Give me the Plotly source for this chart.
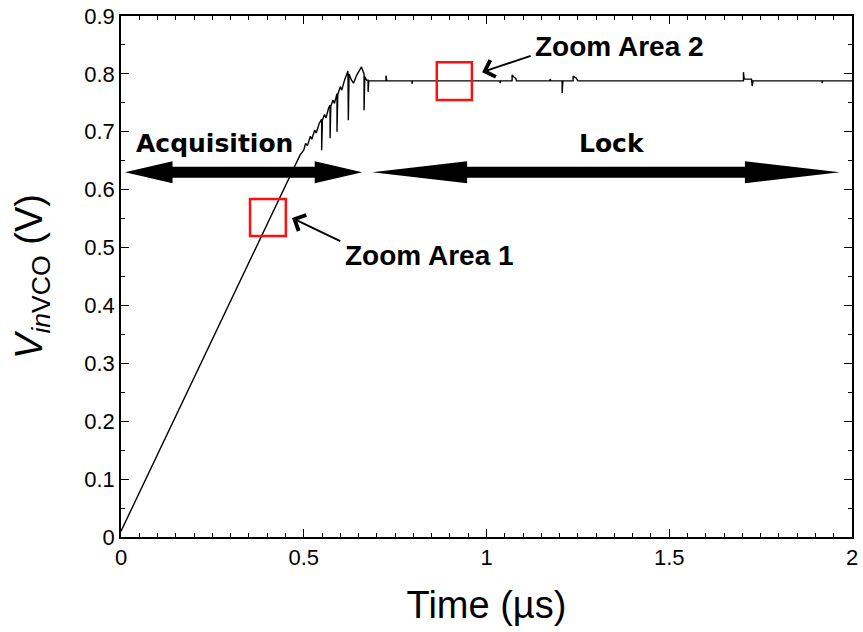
import plotly.graph_objects as go

# Control voltage of the VCO during PLL acquisition and lock
time_us = [
    0.000, 0.100, 0.200, 0.300, 0.400, 0.440, 0.470, 0.490, 0.500, 0.505,
    0.510, 0.518, 0.522, 0.530, 0.534, 0.542, 0.549, 0.549, 0.551, 0.557,
    0.561, 0.568, 0.572, 0.572, 0.574, 0.580, 0.584, 0.591, 0.591, 0.593,
    0.600, 0.604, 0.612, 0.621, 0.622, 0.624, 0.630, 0.636, 0.645, 0.652,
    0.658, 0.665, 0.665, 0.667, 0.672, 0.676, 0.676, 0.678,
    0.725, 0.725, 0.727, 0.796, 0.796, 0.798,
    1.037, 1.037, 1.039, 1.070, 1.070, 1.074, 1.080, 1.082,
    1.174, 1.174, 1.176, 1.207, 1.207, 1.209,
    1.237, 1.237, 1.245, 1.250,
    1.703, 1.703, 1.705, 1.725, 1.727, 1.729,
    1.918, 1.918, 1.920, 2.000,
]
v_in_vco = [
    0.010, 0.143, 0.276, 0.409, 0.541, 0.594, 0.634, 0.660, 0.668, 0.680,
    0.676, 0.692, 0.687, 0.703, 0.698, 0.714, 0.722, 0.668, 0.720, 0.730,
    0.724, 0.741, 0.746, 0.689, 0.744, 0.755, 0.749, 0.766, 0.700, 0.764,
    0.778, 0.772, 0.790, 0.805, 0.720, 0.800, 0.790, 0.784, 0.798, 0.806,
    0.812, 0.800, 0.737, 0.795, 0.789, 0.789, 0.769, 0.788,
    0.788, 0.797, 0.788, 0.788, 0.783, 0.788,
    0.788, 0.784, 0.788, 0.788, 0.798, 0.795, 0.792, 0.788,
    0.788, 0.791, 0.788, 0.788, 0.767, 0.788,
    0.788, 0.796, 0.793, 0.788,
    0.788, 0.803, 0.791, 0.791, 0.779, 0.788,
    0.788, 0.784, 0.788, 0.788,
]

x_ticks = [0, 0.5, 1, 1.5, 2]
x_tick_text = ["0", "0.5", "1", "1.5", "2"]

# Operating phases shown as double-headed arrows
phase_names = ["Acquisition", "Lock"]
phase_start = [0.011, 0.687]
phase_end = [0.660, 1.967]
phase_label_x = [0.255, 1.343]
phase_level = 0.630

# Regions examined in detail
zoom_names = ["Zoom Area 1", "Zoom Area 2"]
zoom_x0 = [0.353, 0.864]
zoom_x1 = [0.451, 0.960]
zoom_y0 = [0.520, 0.755]
zoom_y1 = [0.584, 0.820]
zoom_label_x = [0.845, 1.365]
zoom_label_y = [0.487, 0.848]
pointer_tip_x = [0.468, 0.988]
pointer_tip_y = [0.551, 0.803]
pointer_tail_x = [0.604, 1.125]
pointer_tail_y = [0.510, 0.832]

fig = go.Figure()
fig.add_trace(go.Scatter(
    x=time_us, y=v_in_vco, mode="lines",
    line=dict(color="black", width=1.4), showlegend=False, hoverinfo="skip",
))


def double_arrow(xa, xb, y, head_len, head_half=0.019, shaft_half=0.0095):
    pts = [
        (xa, y), (xa + head_len, y + head_half), (xa + head_len, y + shaft_half),
        (xb - head_len, y + shaft_half), (xb - head_len, y + head_half), (xb, y),
        (xb - head_len, y - head_half), (xb - head_len, y - shaft_half),
        (xa + head_len, y - shaft_half), (xa + head_len, y - head_half),
    ]
    return "M " + " L ".join(f"{px:.4f},{py:.4f}" for px, py in pts) + " Z"


head_lengths = [0.13, 0.26]
for name, xa, xb, hl, lx in zip(phase_names, phase_start, phase_end, head_lengths, phase_label_x):
    fig.add_shape(type="path", path=double_arrow(xa, xb, phase_level, hl),
                  xref="x", yref="y", fillcolor="black", line=dict(width=0))
    fig.add_annotation(x=lx, y=phase_level + 0.05, text=f"<b>{name}</b>",
                       showarrow=False, xref="x", yref="y",
                       font=dict(family="DejaVu Sans", size=25, color="black"))

# Red boxes, their labels, and pointers
for i, name in enumerate(zoom_names):
    fig.add_shape(type="rect", x0=zoom_x0[i], x1=zoom_x1[i], y0=zoom_y0[i], y1=zoom_y1[i],
                  xref="x", yref="y", line=dict(color="#ff1010", width=2.5))
    fig.add_annotation(x=pointer_tip_x[i], y=pointer_tip_y[i], text="", showarrow=True,
                       axref="x", ayref="y", ax=pointer_tail_x[i], ay=pointer_tail_y[i],
                       arrowhead=4, arrowsize=1.7, arrowwidth=2.0, arrowcolor="black")
    fig.add_annotation(x=zoom_label_x[i], y=zoom_label_y[i], text=f"<b>{name}</b>",
                       showarrow=False, xref="x", yref="y",
                       font=dict(family="Liberation Sans", size=28, color="black"))

axis_common = dict(
    showline=True, linecolor="black", linewidth=1.5, mirror="ticks",
    ticks="inside", ticklen=8, tickwidth=1.3, tickcolor="black",
    showgrid=False, zeroline=False, automargin=False,
    tickfont=dict(family="Liberation Sans", size=22, color="black"),
)

fig.update_xaxes(
    range=[0, 2], tickvals=x_ticks, ticktext=x_tick_text,
    minor=dict(ticks="inside", ticklen=4, dtick=0.05, tickcolor="black", tickwidth=1.2),
    title=dict(text="Time (µs)", font=dict(family="Liberation Sans", size=38, color="black"),
               standoff=22),
    **axis_common,
)
fig.update_yaxes(
    range=[0, 0.9], dtick=0.1,
    minor=dict(ticks="inside", ticklen=4, dtick=0.05, tickcolor="black", tickwidth=1.2),
    title=dict(text="<i>V</i><sub><i>in</i>VCO</sub> (V)",
               font=dict(family="Liberation Sans", size=38, color="black"), standoff=30),
    **axis_common,
)

fig.update_layout(
    width=863, height=632,
    margin=dict(l=121, r=11, t=16, b=95),
    plot_bgcolor="white", paper_bgcolor="white",
)

fig.write_html("out.html")
